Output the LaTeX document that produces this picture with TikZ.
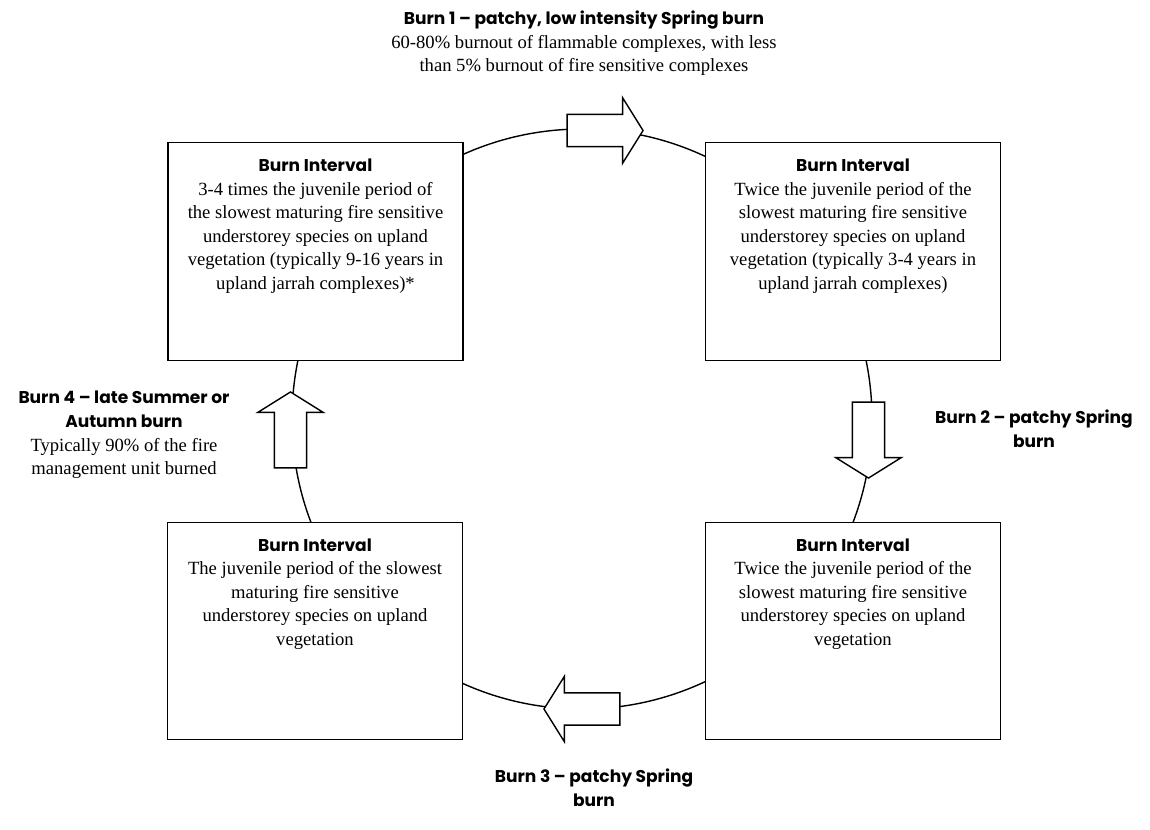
\documentclass[tikz,border=0pt]{standalone}
\usepackage{fontspec}
\setmainfont{Liberation Serif}
\newfontfamily\headfont{Poppins}
\usepackage{tikz}
\usetikzlibrary{positioning,shapes.arrows}
\tikzstyle{interval}=[draw, fill=white, line width=0.8pt, minimum width=5.9cm, minimum height=4.35cm, inner sep=0pt]
\tikzstyle{boxtext}=[align=center, inner sep=0pt, font=\fontsize{10.6}{13.4}\selectfont]
\tikzstyle{burnarrow}=[draw, fill=white, line width=0.8pt, single arrow, single arrow head extend=9.4pt, single arrow tip angle=116, inner xsep=0pt, inner ysep=8.8pt, minimum height=1.52cm]
\newcommand{\burnhead}[1]{{\headfont\bfseries\fontsize{9.7}{13.4}\selectfont #1}}

\begin{document}
\begin{tikzpicture}[x=0.02cm, y=-0.02cm]
        \useasboundingbox (0,0) rectangle (1150,829);
        % the burn cycle
        \draw[line width=0.8pt] (582,419) circle [radius=290];

        % four burn interval boxes
        \node[interval] (tl) at (315.5,251.5) {};
        \node[interval] (tr) at (853,251.5) {};
        \node[interval] (bl) at (315,631) {};
        \node[interval] (br) at (853,631) {};

        \node[boxtext, below=0.33cm of tl.north] (tltext) {\burnhead{Burn Interval}\\
            3-4 times the juvenile period of\\ the slowest maturing fire sensitive\\
            understorey species on upland\\ vegetation (typically 9-16 years in\\ upland jarrah complexes)*};
        \node[boxtext, below=0.33cm of tr.north] (trtext) {\burnhead{Burn Interval}\\
            Twice the juvenile period of the\\ slowest maturing fire sensitive\\
            understorey species on upland\\ vegetation (typically 3-4 years in\\ upland jarrah complexes)};
        \node[boxtext, below=0.33cm of bl.north] (bltext) {\burnhead{Burn Interval}\\
            The juvenile period of the slowest\\ maturing fire sensitive\\
            understorey species on upland\\ vegetation};
        \node[boxtext, below=0.33cm of br.north] (brtext) {\burnhead{Burn Interval}\\
            Twice the juvenile period of the\\ slowest maturing fire sensitive\\
            understorey species on upland\\ vegetation};

        % burn arrows, clockwise
        \node[burnarrow] (b1) at (600,130.5) {};
        \node[burnarrow, rotate=-90] (b2) at (868.5,435) {};
        \node[burnarrow, rotate=180] (b3) at (587,709) {};
        \node[burnarrow, rotate=90] (b4) at (290.5,435) {};

        \node[boxtext] (burn1) at (584,43.5) {\burnhead{Burn 1 – patchy, low intensity Spring burn}\\
            60-80\% burnout of flammable complexes, with less\\ than 5\% burnout of fire sensitive complexes};
        \node[boxtext] (burn2) at (1034,429) {\burnhead{Burn 2 – patchy Spring}\\ \burnhead{burn}};
        \node[boxtext] (burn3) at (594,788) {\burnhead{Burn 3 – patchy Spring}\\ \burnhead{burn}};
        \node[boxtext] (burn4) at (124,435) {\burnhead{Burn 4 – late Summer or}\\ \burnhead{Autumn burn}\\
            Typically 90\% of the fire\\ management unit burned};
\end{tikzpicture}
\end{document}
